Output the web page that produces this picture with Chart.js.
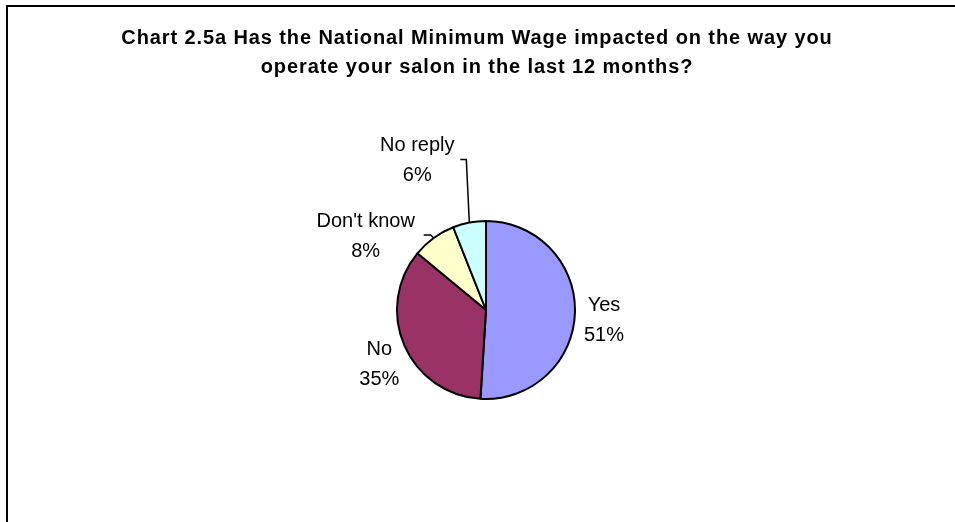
<!DOCTYPE html>
<html>
<head>
<meta charset="utf-8">
<title>National Minimum Wage impact</title>
<script src="https://cdn.jsdelivr.net/npm/chart.js@4.4.1/dist/chart.umd.min.js"></script>
<style>
    html, body { margin: 0; padding: 0; background: #fff; overflow: hidden; }
    #wrap { position: relative; width: 955px; height: 522px; overflow: hidden; }
    #frame { position: absolute; left: 6px; top: 5px; width: 1000px; height: 600px; border-top: 2px solid #000; border-left: 2px solid #000; pointer-events: none; }
    canvas { position: absolute; left: 0; top: 0; }
</style>
</head>
<body>
<div id="wrap">
    <canvas id="wage-chart" width="955" height="522"></canvas>
    <div id="frame"></div>
</div>
<script>
const titleLines = [
    'Chart 2.5a Has the National Minimum Wage impacted on the way you',
    'operate your salon in the last 12 months?'
];
const categories = ['Yes', 'No', "Don't know", 'No reply'];
const shares = [51, 35, 8, 6];
const sliceColors = ['#9999FF', '#993366', '#FFFFCC', '#CCFFFF'];

// label block centre, offset from the point where the slice's mid-angle meets the rim
const labelNudges = [
    { dx: 29, dy: 6 },
    { dx: -25, dy: 17 },
    { dx: -68, dy: -3 },
    { dx: -52, dy: -64 }
];
// leader polylines, relative to the same rim point
const leaderPaths = [
    null,
    null,
    [[-10, -3], [-3, -3], [0, 0]],
    [[-9, -63], [-3, -63], [0, 0]]
];

const FONT = "'Liberation Sans', Arial, sans-serif";

const titlePlugin = {
    id: 'salonTitle',
    afterDraw(chart) {
        const ctx = chart.ctx;
        ctx.save();
        ctx.fillStyle = '#000';
        ctx.font = `bold 20px ${FONT}`;
        ctx.textAlign = 'center';
        ctx.textBaseline = 'alphabetic';
        if ('letterSpacing' in ctx) ctx.letterSpacing = '0.9px';
        const baselines = [44, 73];
        titleLines.forEach((line, i) => ctx.fillText(line, 477, baselines[i]));
        ctx.restore();
    }
};

const sliceLabelPlugin = {
    id: 'sliceLabels',
    afterDatasetsDraw(chart) {
        const ctx = chart.ctx;
        const meta = chart.getDatasetMeta(0);
        ctx.save();
        ctx.fillStyle = '#000';
        ctx.strokeStyle = '#000';
        ctx.lineWidth = 1.5;
        ctx.font = `20px ${FONT}`;
        ctx.textAlign = 'center';
        ctx.textBaseline = 'alphabetic';
        meta.data.forEach((arc, i) => {
            const { x, y, startAngle, endAngle, outerRadius } = arc.getProps(['x', 'y', 'startAngle', 'endAngle', 'outerRadius'], true);
            const mid = (startAngle + endAngle) / 2;
            const rimX = x + Math.cos(mid) * outerRadius;
            const rimY = y + Math.sin(mid) * outerRadius;

            const path = leaderPaths[i];
            if (path) {
                ctx.beginPath();
                path.forEach(([px, py], k) => {
                    if (k === 0) ctx.moveTo(rimX + px, rimY + py);
                    else ctx.lineTo(rimX + px, rimY + py);
                });
                ctx.stroke();
            }

            const cx = rimX + labelNudges[i].dx;
            const cy = rimY + labelNudges[i].dy;
            const lines = [categories[i], `${shares[i]}%`];
            lines.forEach((txt, k) => {
                const lineMid = cy + (k === 0 ? -15 : 15);
                ctx.fillText(txt, cx, lineMid + 7.2);
            });
        });
        ctx.restore();
    }
};

new Chart(document.getElementById('wage-chart').getContext('2d'), {
    type: 'pie',
    data: {
        labels: categories,
        datasets: [{
            data: shares,
            backgroundColor: sliceColors,
            borderColor: '#000',
            borderWidth: 2
        }]
    },
    options: {
        responsive: false,
        animation: false,
        events: [],
        layout: { padding: { top: 220, bottom: 122, left: 396, right: 379 } },
        elements: { arc: { borderAlign: 'center' } },
        plugins: {
            legend: { display: false },
            tooltip: { enabled: false },
            title: { display: false }
        }
    },
    plugins: [titlePlugin, sliceLabelPlugin]
});
</script>
</body>
</html>
